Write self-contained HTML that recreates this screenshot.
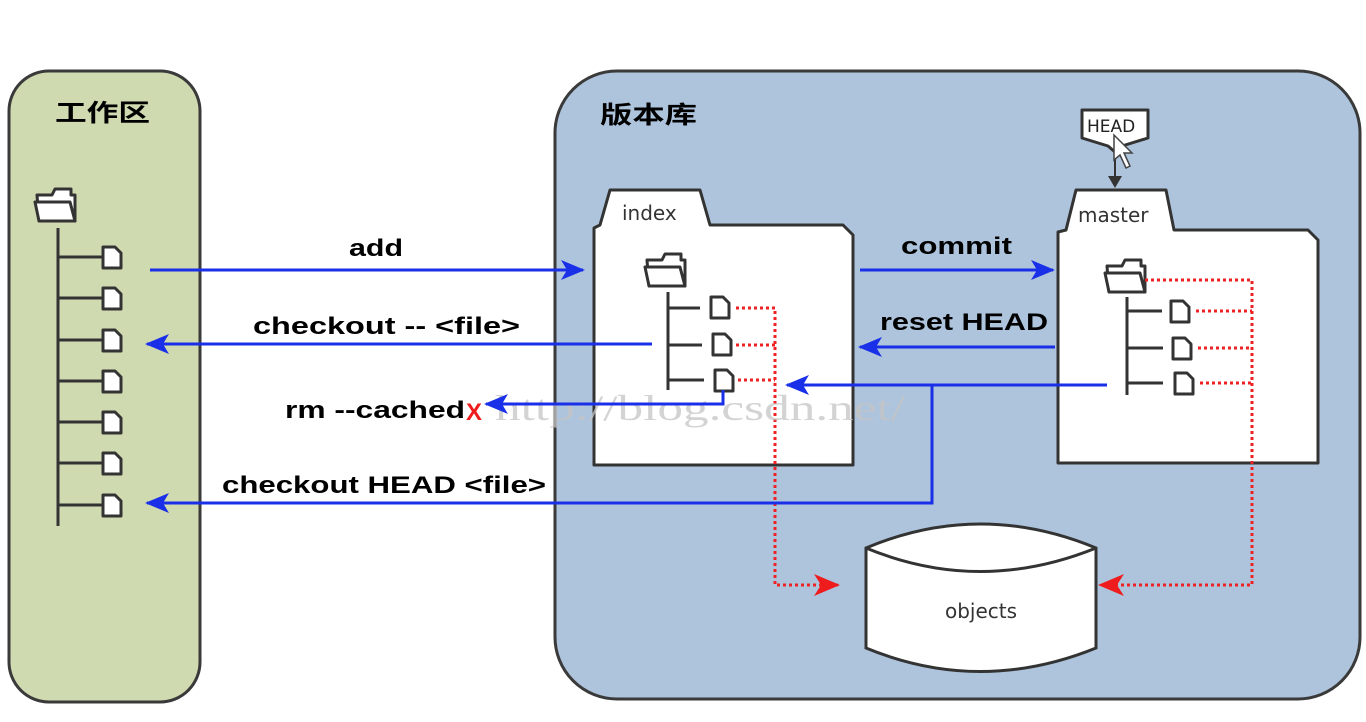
<!DOCTYPE html>
<html><head><meta charset="utf-8"><style>
html,body{margin:0;padding:0;background:#fff;width:1366px;height:722px;overflow:hidden}
svg{display:block}
.b{font-family:"Liberation Sans","Noto Sans CJK SC",sans-serif;font-weight:bold;font-size:24px;fill:#000}
.n{font-family:"DejaVu Sans","Liberation Sans",sans-serif;font-size:20px;fill:#333}
</style></head><body>
<svg width="1366" height="722" viewBox="0 0 1366 722" xmlns="http://www.w3.org/2000/svg">
<defs>
<marker id="ab2" markerWidth="24" markerHeight="24" refX="22" refY="12" orient="auto" markerUnits="userSpaceOnUse" viewBox="0 0 24 24"><path d="M0,2 L24,12 L0,22 L6,12 z" fill="#1a2fe8"/></marker>
<marker id="ar" markerWidth="26" markerHeight="26" refX="24" refY="13" orient="auto" markerUnits="userSpaceOnUse" viewBox="0 0 26 26"><path d="M0,2 L26,13 L0,24 L7,13 z" fill="#ee1c1c"/></marker>
<g id="file"><path d="M0,0 h12 l6,6 v15 h-18 z" fill="#fff" stroke="#333" stroke-width="3" stroke-linejoin="round"/></g>
<g id="fold"><path d="M2,9 h15 l3,-6 h16 v6 h4 v26 h-36 z" fill="#fff" stroke="#333" stroke-width="3" stroke-linejoin="round"/><path d="M0,16 h35 l5,19 h-36 z" fill="#fff" stroke="#333" stroke-width="3" stroke-linejoin="round"/></g>
</defs>

<rect x="9" y="71" width="191" height="631" rx="40" fill="#d0dab0" stroke="#3a3a3a" stroke-width="3"/>
<text x="55" y="121" class="b" font-size="30" textLength="95" lengthAdjust="spacingAndGlyphs">工作区</text>
<use href="#fold" x="35" y="186"/>
<line x1="58" y1="228" x2="58" y2="526" stroke="#333" stroke-width="3"/>
<g stroke="#333" stroke-width="3">
<line x1="58" y1="257" x2="102" y2="257"/><line x1="58" y1="298" x2="102" y2="298"/><line x1="58" y1="340" x2="102" y2="340"/><line x1="58" y1="381" x2="102" y2="381"/><line x1="58" y1="422" x2="102" y2="422"/><line x1="58" y1="463" x2="102" y2="463"/><line x1="58" y1="505" x2="102" y2="505"/>
</g>
<use href="#file" x="103" y="247"/><use href="#file" x="103" y="288"/><use href="#file" x="103" y="330"/><use href="#file" x="103" y="371"/><use href="#file" x="103" y="412"/><use href="#file" x="103" y="453"/><use href="#file" x="103" y="495"/>

<rect x="555" y="71" width="805" height="628" rx="62" fill="#aec4dc" stroke="#3a3a3a" stroke-width="3"/>
<text x="600" y="123" class="b" font-size="30" textLength="97" lengthAdjust="spacingAndGlyphs">版本库</text>

<path d="M594,465 V228 L600,225 L610,190 H700 L710,225 H843 L853,235 V465 Z" fill="#fff" stroke="#333" stroke-width="3" stroke-linejoin="round"/>
<text x="622" y="220" class="n">index</text>
<use href="#fold" x="645" y="251"/>
<line x1="668" y1="292" x2="668" y2="390" stroke="#333" stroke-width="3"/>
<g stroke="#333" stroke-width="3"><line x1="668" y1="308" x2="700" y2="308"/><line x1="668" y1="345" x2="702" y2="345"/><line x1="668" y1="380" x2="704" y2="380"/></g>
<use href="#file" x="711" y="297"/><use href="#file" x="713" y="334"/><use href="#file" x="715" y="370"/>

<path d="M1058,463 V232 L1066,230 L1076,190 H1166 L1174,230 H1308 L1318,240 V463 Z" fill="#fff" stroke="#333" stroke-width="3" stroke-linejoin="round"/>
<text x="1078" y="222" class="n">master</text>
<use href="#fold" x="1105" y="257"/>
<line x1="1127" y1="297" x2="1127" y2="395" stroke="#333" stroke-width="3"/>
<g stroke="#333" stroke-width="3"><line x1="1127" y1="311" x2="1162" y2="311"/><line x1="1127" y1="348" x2="1163" y2="348"/><line x1="1127" y1="383" x2="1163" y2="383"/></g>
<use href="#file" x="1171" y="301"/><use href="#file" x="1173" y="338"/><use href="#file" x="1175" y="373"/>

<path d="M1082,110 H1148 V138 L1122,146 L1115,152 L1108,146 L1082,138 Z" fill="#fff" stroke="#333" stroke-width="3" stroke-linejoin="round"/>
<text x="1087" y="132" font-family="DejaVu Sans,sans-serif" font-size="17" fill="#222">HEAD</text>
<line x1="1115" y1="150" x2="1115" y2="180" stroke="#333" stroke-width="2"/>
<path d="M1108,176 L1122,176 L1115,188 Z" fill="#333"/>
<path d="M1114,135 L1114,160 L1120,155 L1126,168 L1130,166 L1124,153 L1132,153 Z" fill="#fff" stroke="#444" stroke-width="1.5"/>

<path d="M866,548 Q980,500 1096,548 V648 Q980,695 866,648 Z" fill="#fff" stroke="#333" stroke-width="3"/>
<path d="M866,548 Q980,595 1096,548" fill="none" stroke="#333" stroke-width="3"/>
<text x="981" y="618" class="n" text-anchor="middle">objects</text>

<g stroke="#e22" stroke-width="3" stroke-dasharray="3,3" fill="none">
<path d="M736,308 H775 V585 H838" marker-end="url(#ar)"/>
<path d="M736,345 H775"/><path d="M738,380 H775"/>
<path d="M1145,280 H1252 V585 H1100" marker-end="url(#ar)"/>
<path d="M1196,311 H1252"/><path d="M1198,348 H1252"/><path d="M1200,383 H1252"/>
</g>

<text x="495" y="420" font-family="Liberation Serif,serif" font-size="36" fill="#c4c4c4" fill-opacity="0.75" textLength="410" lengthAdjust="spacingAndGlyphs">http://blog.csdn.net/</text>

<g stroke="#1a2fe8" stroke-width="3" fill="none">
<path d="M150,270 H583" marker-end="url(#ab2)"/>
<path d="M652,344 H147" marker-end="url(#ab2)"/>
<path d="M723,390 V404 H486" marker-end="url(#ab2)"/>
<path d="M860,270 H1053" marker-end="url(#ab2)"/>
<path d="M1055,347 H860" marker-end="url(#ab2)"/>
<path d="M1107,385 H787" marker-end="url(#ab2)"/>
<path d="M932,385 V503 H147" marker-end="url(#ab2)"/>
</g>

<text x="349" y="256" class="b" textLength="54" lengthAdjust="spacingAndGlyphs">add</text>
<text x="253" y="334" class="b" textLength="267" lengthAdjust="spacingAndGlyphs">checkout -- &lt;file&gt;</text>
<text x="285" y="418" class="b" textLength="180" lengthAdjust="spacingAndGlyphs">rm --cached</text>
<text x="466" y="420" class="b" style="fill:#ee1c1c" font-size="26" textLength="16" lengthAdjust="spacingAndGlyphs">X</text>
<text x="222" y="493" class="b" textLength="324" lengthAdjust="spacingAndGlyphs">checkout HEAD &lt;file&gt;</text>
<text x="901" y="254" class="b" textLength="111" lengthAdjust="spacingAndGlyphs">commit</text>
<text x="880" y="330" class="b" textLength="168" lengthAdjust="spacingAndGlyphs">reset HEAD</text>
</svg>
</body></html>
